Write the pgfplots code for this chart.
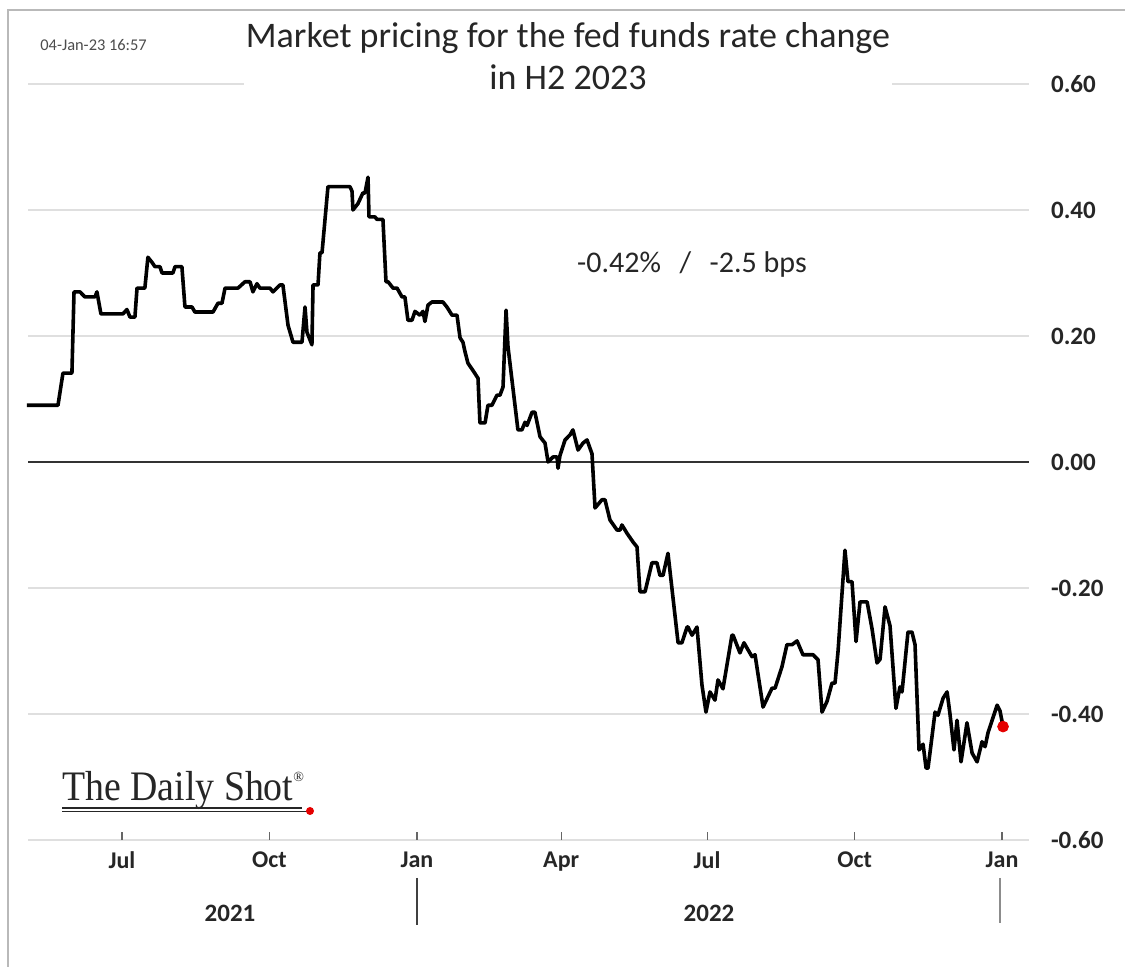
\documentclass[border=0pt]{standalone}
\usepackage{fontspec}
\setmainfont{Carlito}
\newfontfamily\logofont{Liberation Serif}
\usepackage{pgfplots}
\pgfplotsset{compat=1.18}
\usepackage{pgfplotstable}

\pgfplotstableread{
x y
-59.3 0.090
-39.9 0.090
-36.8 0.141
-31.2 0.141
-29.9 0.270
-26.2 0.270
-23.1 0.262
-16.8 0.262
-15.6 0.270
-13.1 0.235
0.6 0.235
3.1 0.242
5.0 0.230
8.1 0.230
9.4 0.276
14.3 0.276
16.2 0.325
18.7 0.317
20.6 0.310
23.7 0.310
25.0 0.300
31.8 0.300
33.1 0.310
37.4 0.310
39.3 0.246
43.7 0.246
45.5 0.238
56.8 0.238
59.9 0.252
62.4 0.252
64.3 0.276
72.4 0.276
76.7 0.286
79.9 0.286
81.7 0.270
84.2 0.283
86.1 0.276
92.3 0.276
94.2 0.270
98.6 0.281
100.4 0.281
103.6 0.217
106.7 0.190
112.3 0.190
114.2 0.246
115.4 0.206
118.5 0.186
119.2 0.281
122.3 0.281
123.5 0.332
124.8 0.332
125.4 0.349
128.5 0.437
142.2 0.437
143.5 0.430
144.1 0.400
147.2 0.410
150.3 0.427
151.6 0.427
153.5 0.452
154.1 0.389
157.8 0.389
159.1 0.385
162.8 0.385
164.7 0.286
166.0 0.286
169.1 0.276
171.6 0.276
174.7 0.262
176.5 0.262
178.4 0.225
180.9 0.225
182.8 0.239
185.9 0.233
187.8 0.239
189.0 0.223
190.9 0.249
193.4 0.254
200.2 0.254
202.7 0.246
205.9 0.233
209.0 0.233
210.9 0.197
212.7 0.190
214.0 0.175
215.8 0.157
219.0 0.145
222.1 0.133
223.3 0.062
226.5 0.062
228.3 0.090
230.8 0.090
233.9 0.106
235.8 0.106
237.7 0.119
239.6 0.241
240.8 0.183
247.0 0.051
249.5 0.051
251.4 0.063
252.7 0.058
255.8 0.079
257.6 0.079
260.8 0.040
263.9 0.030
265.8 0.000
268.9 0.008
271.4 0.008
272.0 -0.010
273.2 0.010
276.4 0.035
279.5 0.043
281.3 0.051
284.5 0.019
287.6 0.030
290.1 0.035
293.2 0.013
295.1 -0.073
299.4 -0.060
301.3 -0.060
304.4 -0.092
308.8 -0.108
310.7 -0.108
311.9 -0.100
315.0 -0.113
318.8 -0.127
321.3 -0.135
323.1 -0.206
326.3 -0.206
330.6 -0.160
333.7 -0.160
335.6 -0.180
337.5 -0.180
340.6 -0.145
346.9 -0.287
349.3 -0.287
352.5 -0.262
353.1 -0.262
355.6 -0.275
358.7 -0.262
361.8 -0.354
364.3 -0.397
366.8 -0.365
369.9 -0.378
371.8 -0.346
374.9 -0.360
380.5 -0.275
381.2 -0.275
385.5 -0.303
388.0 -0.287
393.0 -0.309
394.9 -0.306
399.9 -0.389
405.5 -0.359
407.4 -0.359
411.7 -0.325
414.8 -0.290
418.0 -0.290
421.1 -0.284
424.8 -0.306
431.1 -0.306
434.2 -0.314
436.7 -0.397
439.8 -0.380
442.9 -0.351
444.8 -0.351
446.7 -0.300
451.0 -0.140
452.9 -0.190
455.4 -0.190
457.9 -0.285
460.4 -0.222
464.8 -0.222
467.9 -0.265
471.0 -0.319
472.9 -0.313
476.0 -0.230
479.1 -0.260
482.8 -0.391
485.3 -0.357
486.6 -0.365
490.3 -0.270
492.8 -0.270
494.7 -0.290
497.2 -0.457
499.7 -0.448
501.6 -0.486
502.8 -0.486
504.7 -0.448
507.2 -0.397
509.0 -0.402
512.2 -0.375
514.7 -0.365
516.5 -0.400
519.0 -0.457
520.9 -0.410
523.4 -0.476
527.1 -0.414
530.3 -0.462
533.4 -0.476
536.5 -0.444
538.4 -0.452
540.2 -0.430
545.9 -0.386
547.7 -0.395
549.6 -0.420
}\ratedata

\pgfplotstableread{
x y
549.6 -0.420
}\lastpoint

\begin{document}
\begin{tikzpicture}[x=0.5pt,y=0.5pt]
\useasboundingbox (0,0) rectangle (1125,967);
\fill[white] (0,0) rectangle (1125,967);
% frame
\draw[gray!55, line width=1pt] (8,0) -- (8,957) -- (1125,957);

\begin{axis}[
  at={(14pt,63.5pt)}, anchor=south west,
  scale only axis, width=500.5pt, height=378pt,
  xmin=-58.6, xmax=565.8, ymin=-0.6, ymax=0.6,
  axis line style={draw=none},
  ytick={-0.6,-0.4,-0.2,0,0.2,0.4,0.6},
  yticklabels={-0.60,-0.40,-0.20,0.00,0.20,0.40,0.60},
  yticklabel pos=right,
  ymajorgrids,
  grid style={draw=gray!25, line width=0.9pt},
  ytick style={draw=none},
  yticklabel style={anchor=west, xshift=7.5pt, font=\fontsize{12.5}{14}\selectfont\bfseries, text=black!85},
  extra y ticks={0},
  extra y tick labels={},
  extra y tick style={grid style={draw=black!80, line width=0.9pt}},
  xtick={0,92,184,274,365,457,549},
  xticklabels={Jul,Oct,Jan,Apr,Jul,Oct,Jan},
  xtick pos=bottom,
  xtick align=inside,
  major tick length=4pt,
  xtick style={draw=black!60, line width=0.6pt},
  xticklabel style={font=\fontsize{12}{14}\selectfont\bfseries, text=black!85, yshift=-2.5pt},
  clip=false,
]
\addplot[black, line width=1.8pt, line join=round] table[x=x,y=y]{\ratedata};
\addplot[only marks, mark=*, mark size=2.7pt, color=red!90!black] table[x=x,y=y]{\lastpoint};
\end{axis}

% year labels and separators
\node[font=\fontsize{12.5}{14}\selectfont\bfseries, text=black!85] at (230,54) {2021};
\node[font=\fontsize{12.5}{14}\selectfont\bfseries, text=black!85] at (709,54) {2022};
\draw[black!75, line width=0.7pt] (417,89) -- (417,42);
\draw[black!45, line width=1.2pt] (1000,89) -- (1000,44);

% title
\node[fill=white, inner xsep=1pt, inner ysep=3pt, align=center,
      font=\fontsize{18}{21}\selectfont, text=black!85] at (568,911)
  {Market pricing for the fed funds rate change\\in H2 2023};

% date stamp
\node[anchor=west, inner sep=0pt, font=\fontsize{8.2}{9}\selectfont, text=black!70] at (40,922) {04-Jan-23 16:57};

% annotation
\node[font=\fontsize{15}{17}\selectfont, text=black!85] at (692,702) {-0.42\%\ \ \,/\ \ \,-2.5 bps};

% logo
\node[anchor=base west, inner sep=0pt, font=\logofont\fontsize{21}{22}\selectfont, text=black!85] at (62,166)
  {\scalebox{0.9}[1]{The Daily Shot}\raisebox{1.0ex}{\fontsize{7}{8}\selectfont\textregistered}};
\draw[black!85, line width=1.1pt] (62,159) -- (302,159);
\draw[black!85, line width=0.5pt] (62,155) -- (308,155);
\fill[red!90!black] (310,156) circle (4);
\end{tikzpicture}
\end{document}
